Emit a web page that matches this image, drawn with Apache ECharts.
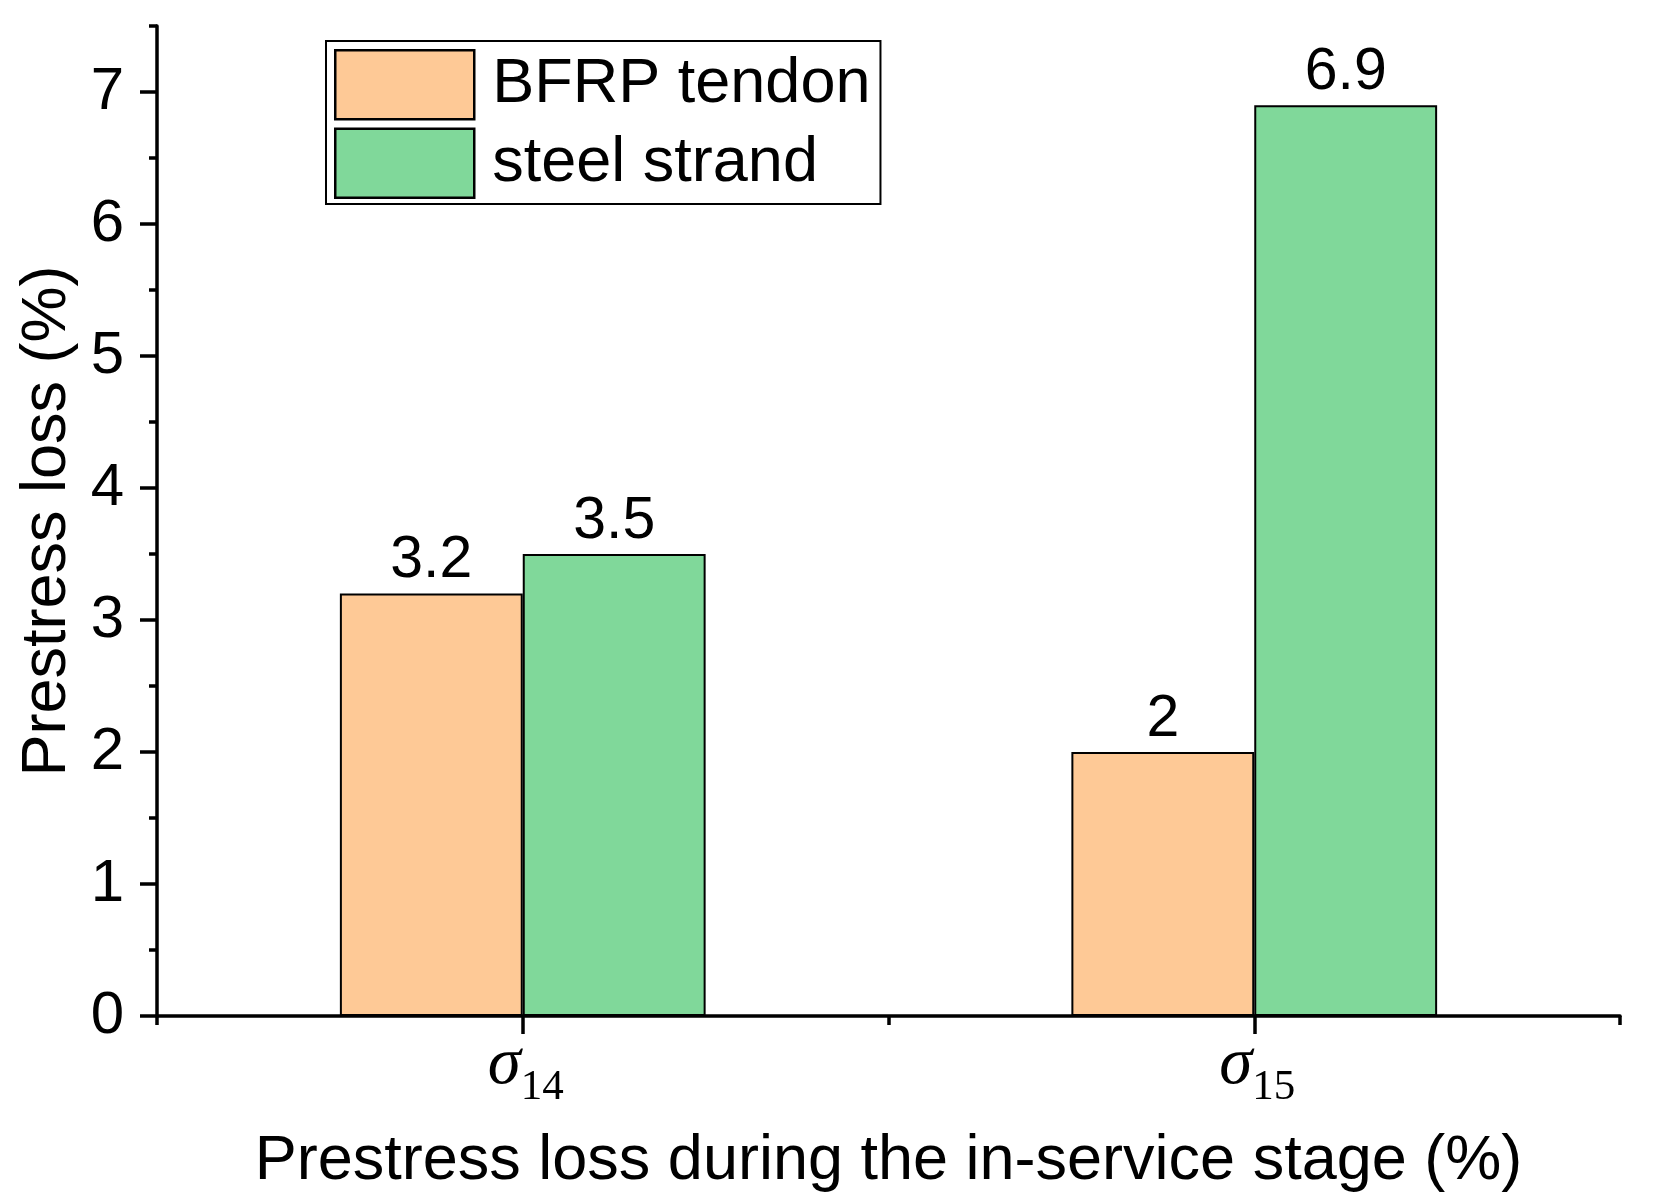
<!DOCTYPE html>
<html>
<head>
<meta charset="utf-8">
<script src="https://cdn.jsdelivr.net/npm/echarts@6/dist/echarts.min.js"></script>
<style>
html,body{margin:0;padding:0;background:#fff;}
#chart{width:1669px;height:1204px;}
</style>
</head>
<body>
<div id="chart"></div>
<script>
const categories = ['σ14', 'σ15'];
const seriesNames = ['BFRP tendon', 'steel strand'];
const bfrpValues = [3.2, 2];
const steelValues = [3.5, 6.9];
const yTickValues = [0, 1, 2, 3, 4, 5, 6, 7];
const xTitle = 'Prestress loss during the in-service stage (%)';
const yTitle = 'Prestress loss (%)';

const FONT = 'Liberation Sans, Arial, sans-serif';
const SERIF = 'Liberation Serif, Times New Roman, serif';
const chart = echarts.init(document.getElementById('chart'), null, {renderer: 'canvas'});

const barLabel = {
  show: true, position: 'top', distance: 3,
  color: '#000', fontFamily: FONT, fontSize: 59
};

chart.setOption({
  backgroundColor: '#fff',
  animation: false,
  grid: {left: 157, right: 49, top: 26, bottom: 188, containLabel: false},
  legend: {
    orient: 'vertical', left: 326, top: 41,
    data: seriesNames,
    icon: 'rect',
    itemWidth: 139, itemHeight: 69, itemGap: 7,
    padding: [8, 10, 5, 8],
    borderColor: '#000', borderWidth: 2, backgroundColor: '#fff',
    textStyle: {fontFamily: FONT, fontSize: 63, color: '#000', padding: [0, 0, 0, 13]},
    itemStyle: {borderColor: '#000', borderWidth: 2.5}
  },
  xAxis: [
    {
      type: 'category', data: categories, position: 'bottom',
      axisLine: {show: true, lineStyle: {color: '#000', width: 3.5}},
      axisTick: {show: true, alignWithLabel: false, length: 9, lineStyle: {color: '#000', width: 3.5}},
      axisLabel: {
        show: true, margin: 16,
        formatter: function (v) { return '{s|' + v.charAt(0) + '}{sub|' + v.slice(1) + '}'; },
        rich: {
          s: {fontFamily: SERIF, fontStyle: 'italic', fontSize: 67, color: '#000', verticalAlign: 'top', padding: [0, 0, 0, 6]},
          sub: {fontFamily: SERIF, fontSize: 43, color: '#000', verticalAlign: 'top', padding: [34, 0, 0, 0]}
        }
      },
      splitLine: {show: false},
      name: xTitle, nameLocation: 'middle', nameGap: 114,
      nameTextStyle: {fontFamily: FONT, fontSize: 63, color: '#000'}
    },
    {
      type: 'category', data: categories, position: 'bottom',
      axisLine: {show: false},
      axisTick: {show: true, alignWithLabel: true, length: 18, lineStyle: {color: '#000', width: 3.5}},
      axisLabel: {show: false},
      splitLine: {show: false}
    }
  ],
  yAxis: [
    {
      type: 'value', min: 0, max: 7.5, interval: 1, position: 'left',
      axisLine: {show: true, lineStyle: {color: '#000', width: 3.5}},
      axisTick: {show: true, length: 17, customValues: yTickValues, lineStyle: {color: '#000', width: 3.5}},
      axisLabel: {show: true, margin: 33, customValues: yTickValues, fontFamily: FONT, fontSize: 60, color: '#000',
        formatter: function (v) { return Number.isInteger(v) ? String(v) : ''; }},
      splitLine: {show: false},
      name: yTitle, nameLocation: 'middle', nameGap: 78,
      nameTextStyle: {fontFamily: FONT, fontSize: 63, color: '#000'}
    },
    {
      type: 'value', min: 0, max: 7.5, interval: 0.5, position: 'left',
      axisLine: {show: false},
      axisTick: {show: true, length: 8, lineStyle: {color: '#000', width: 3.5}},
      axisLabel: {show: false},
      splitLine: {show: false}
    }
  ],
  series: [
    {
      name: seriesNames[0], type: 'bar', data: bfrpValues,
      barWidth: '25%', barGap: '0%',
      itemStyle: {color: '#FEC996', borderColor: '#000', borderWidth: 2},
      label: barLabel
    },
    {
      name: seriesNames[1], type: 'bar', data: steelValues,
      barWidth: '25%', barGap: '0%',
      itemStyle: {color: '#80D89A', borderColor: '#000', borderWidth: 2},
      label: barLabel
    }
  ]
});
</script>
</body>
</html>
